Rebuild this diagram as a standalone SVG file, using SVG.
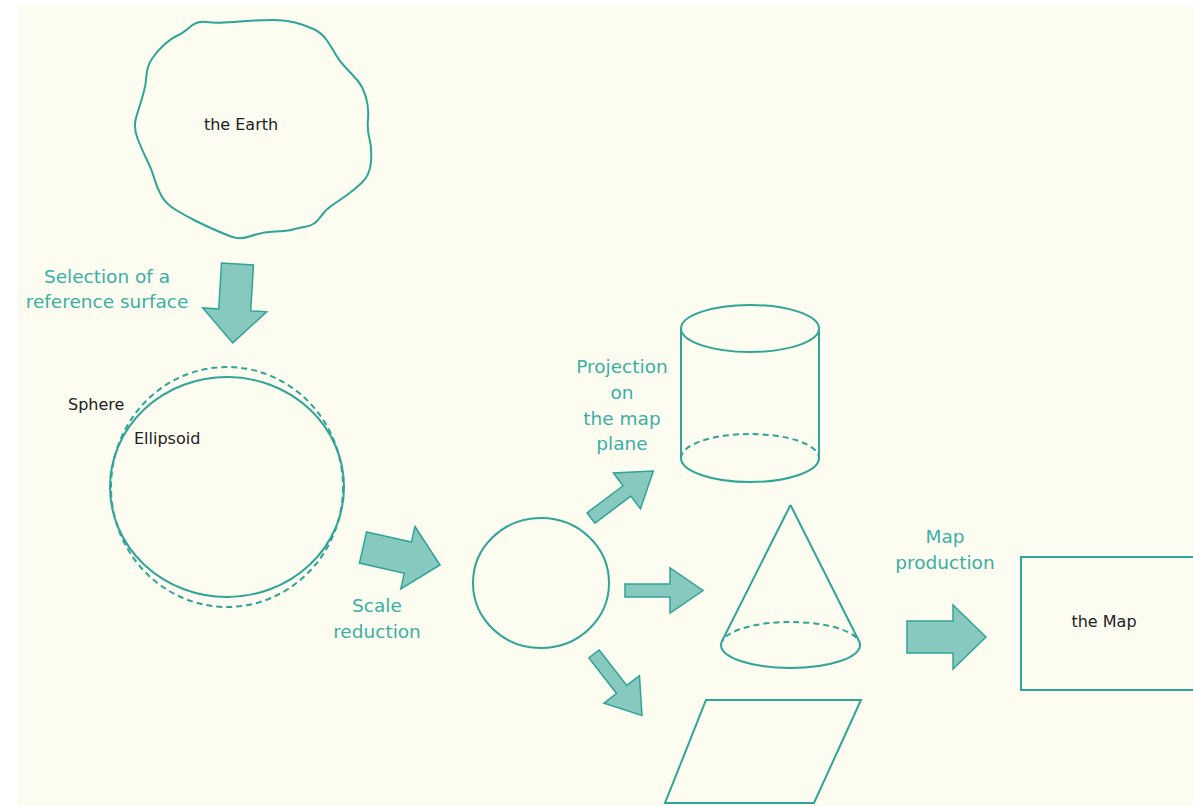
<svg xmlns="http://www.w3.org/2000/svg" width="1193" height="806" viewBox="0 0 1193 806">
<style>
.ln{fill:none;stroke:#2FA596;stroke-width:2}
.dash{fill:none;stroke:#2FA596;stroke-width:2;stroke-dasharray:6 4}
.arr{fill:#87C9BF;stroke:#2FA596;stroke-width:1.5;stroke-linejoin:miter}
.lbl{font-family:"DejaVu Sans",Verdana,sans-serif;font-size:18.5px;fill:#3AB0A2;text-anchor:middle}
.txt{font-family:"DejaVu Sans",Verdana,sans-serif;font-size:16px;fill:#222}
</style>
<defs>
<path id="bigArrow" d="M0,-16 L46,-16 L46,-32 L79,0 L46,32 L46,16 L0,16 Z"/>
<path id="smallArrow" d="M0,-6.5 L45,-6.5 L45,-22.5 L78,0 L45,22.5 L45,6.5 L0,6.5 Z"/>
</defs>
<rect x="0" y="0" width="1193" height="806" fill="#ffffff"/>
<rect x="18" y="5" width="1175" height="801" fill="#FCFCF1"/>

<g id="earth">
<path class="ln" d="M190,27 Q197,21 206,22 Q215,23 224,22.5 Q233,22 246.5,21 Q260,20 272.5,20 Q285,20 295,22.5 Q305,25 313.5,29 Q322,33 327,40.5 Q332,48 336,55 Q340,62 346,68 Q352,74 357.5,80.5 Q363,87 366,97.5 Q369,108 368,119 Q367,130 369.5,139 Q372,148 371,161.5 Q370,175 362,182.5 Q354,190 347,195 Q340,200 332.5,205 Q325,210 320,217.5 Q315,225 306.5,226.5 Q298,228 293,229.5 Q288,231 275,231.5 Q262,232 251,236 Q240,240 231,236.5 Q222,233 214,229.5 Q206,226 196,221 Q186,216 176,210 Q166,204 161.5,196 Q157,188 154.5,179 Q152,170 147,160 Q142,150 137.5,138.5 Q133,127 136.5,116 Q140,105 143,95 Q146,85 146.5,75.5 Q147,66 152.5,58 Q158,50 165,44 Q172,38 177.5,35.5 Q183,33 190,27 Z"/>
<text class="txt" x="241" y="130" text-anchor="middle">the Earth</text>
</g>

<g id="reference-surface">
<ellipse class="dash" cx="227" cy="487" rx="116" ry="120"/>
<ellipse class="ln" cx="227" cy="487" rx="117" ry="110"/>
<text class="txt" x="68" y="410">Sphere</text>
<text class="txt" x="134" y="444">Ellipsoid</text>
</g>

<g id="reduced-globe">
<ellipse class="ln" cx="541" cy="583" rx="68" ry="65"/>
</g>

<g id="cylinder">
<ellipse class="ln" cx="750" cy="328.5" rx="69" ry="23.5"/>
<line class="ln" x1="681" y1="328.5" x2="681" y2="458"/>
<line class="ln" x1="819" y1="328.5" x2="819" y2="458"/>
<path class="dash" d="M681,458 A69,24 0 0 1 819,458"/>
<path class="ln" d="M681,458 A69,24 0 0 0 819,458"/>
</g>

<g id="cone">
<line class="ln" x1="790.5" y1="505" x2="721.9" y2="641.2"/>
<line class="ln" x1="790.5" y1="505" x2="859.1" y2="641.2"/>
<path class="dash" d="M721,645 A69.5,23 0 0 1 860,645"/>
<path class="ln" d="M721,645 A69.5,23 0 0 0 860,645"/>
</g>

<g id="plane">
<polygon class="ln" points="706,700 861,700 814,803 665,803"/>
</g>

<g id="map">
<rect class="ln" x="1021" y="557" width="200" height="133"/>
<text class="txt" x="1104" y="627" text-anchor="middle">the Map</text>
</g>

<g id="connectors">
<use href="#bigArrow" class="arr" transform="translate(237.5,264) rotate(93.5)"/>
<use href="#bigArrow" class="arr" transform="translate(363,547.5) rotate(12.8)"/>
<use href="#smallArrow" class="arr" transform="translate(591,518) rotate(-37)"/>
<use href="#smallArrow" class="arr" transform="translate(625,590.5)"/>
<use href="#smallArrow" class="arr" transform="translate(594,654) rotate(52)"/>
<use href="#bigArrow" class="arr" transform="translate(907,637)"/>
<text class="lbl" x="107" y="282.5">Selection of a</text>
<text class="lbl" x="107" y="308">reference surface</text>
<text class="lbl" x="377" y="611.5">Scale</text>
<text class="lbl" x="377" y="637.5">reduction</text>
<text class="lbl" x="622" y="373">Projection</text>
<text class="lbl" x="622" y="399">on</text>
<text class="lbl" x="622" y="424.5">the map</text>
<text class="lbl" x="622" y="450">plane</text>
<text class="lbl" x="945" y="543">Map</text>
<text class="lbl" x="945" y="568.5">production</text>
</g>
</svg>
